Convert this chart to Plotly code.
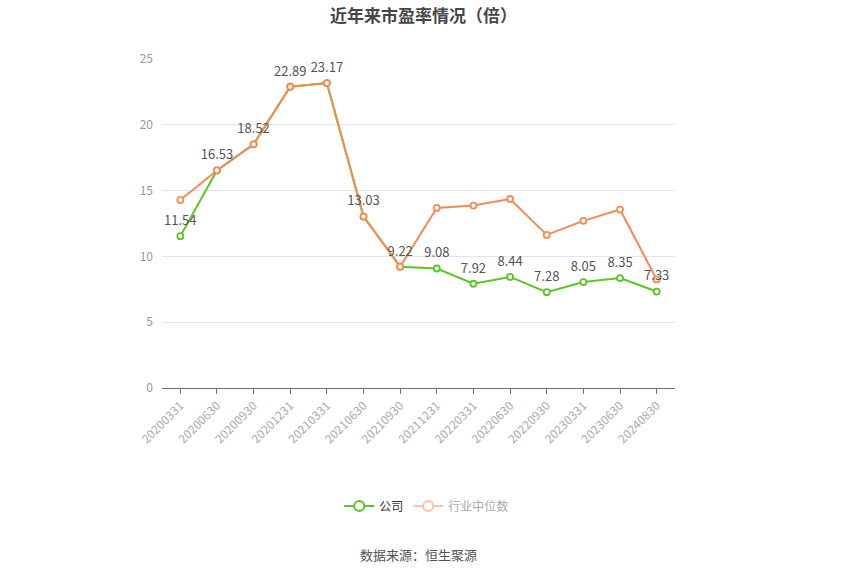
import plotly.graph_objects as go

dates = ["20200331", "20200630", "20200930", "20201231", "20210331", "20210630", "20210930",
         "20211231", "20220331", "20220630", "20220930", "20230331", "20230630", "20240830"]
company = [11.54, 16.53, 18.52, 22.89, 23.17, 13.03, 9.22, 9.08, 7.92, 8.44, 7.28, 8.05, 8.35, 7.33]
industry = [14.29, 16.53, 18.52, 22.89, 23.17, 13.03, 9.22, 13.68, 13.86, 14.36, 11.63, 12.70, 13.56, 8.25]
company_labels = [f"{v:.2f}" for v in company]
yticks = [0, 5, 10, 15, 20, 25]

GREEN = "#5cc424"
ORANGE = "#f28b55"
FONT = "Noto Sans CJK SC, Open Sans, sans-serif"

fig = go.Figure()

fig.add_trace(go.Scatter(
    x=dates, y=company, mode="lines+markers", showlegend=False,
    line=dict(color=GREEN, width=2),
    marker=dict(symbol="circle", size=6, color="white", line=dict(color=GREEN, width=1.8)),
    hoverinfo="skip",
))
fig.add_trace(go.Scatter(
    x=dates, y=industry, mode="lines+markers", showlegend=False,
    line=dict(color=ORANGE, width=2),
    marker=dict(symbol="circle", size=6, color="white", line=dict(color=ORANGE, width=1.8)),
    hoverinfo="skip",
))
fig.add_trace(go.Scatter(
    x=dates, y=company, mode="markers+text", text=company_labels, textposition="top center",
    marker=dict(size=11, opacity=0),
    textfont=dict(size=13, color="#555555", family=FONT), showlegend=False, hoverinfo="skip",
))

# legend entries
fig.add_trace(go.Scatter(
    x=[None], y=[None], mode="lines+markers", name="公司",
    line=dict(color=GREEN, width=2),
    marker=dict(symbol="circle", size=10, color="white", line=dict(color=GREEN, width=2)),
))
fig.add_trace(go.Scatter(
    x=[None], y=[None], mode="lines+markers",
    name="<span style='color:#aaaaaa'>行业中位数</span>",
    line=dict(color="#f9c4a8", width=2),
    marker=dict(symbol="circle", size=10, color="white", line=dict(color="#f9c4a8", width=2)),
))

fig.update_layout(
    width=850, height=575,
    margin=dict(l=162, r=175, t=59, b=187),
    paper_bgcolor="white", plot_bgcolor="white",
    font=dict(family=FONT, color="#666666", size=12),
    xaxis=dict(
        type="category", categoryorder="array", categoryarray=dates,
        range=[-0.5, len(dates) - 0.5],
        tickangle=-45, tickfont=dict(size=12, color="#aaaaaa"),
        showgrid=False, showline=True, linecolor="#6e7079", linewidth=1,
        ticks="outside", ticklen=5, tickcolor="#6e7079", zeroline=False,
    ),
    yaxis=dict(
        range=[0, 25], tickvals=yticks, tickfont=dict(size=12, color="#999999"),
        showgrid=True, gridcolor="#e0e6f1", gridwidth=1, zeroline=False,
        showline=False, ticks="", ticklabelstandoff=8,
    ),
    legend=dict(orientation="h", x=0.516, xanchor="center", y=-0.359, yanchor="middle",
                font=dict(size=12, color="#333333", family=FONT), itemwidth=30,
                bgcolor="rgba(0,0,0,0)"),
    annotations=[
        dict(text="<b>近年来市盈率情况（倍）</b>", xref="paper", yref="paper", x=0.51, y=1 + 45 / 329,
             xanchor="center", yanchor="middle", showarrow=False,
             font=dict(size=17, color="#464646", family=FONT)),
        dict(text="数据来源：恒生聚源", xref="paper", yref="paper", x=0.5, y=-0.505,
             xanchor="center", yanchor="middle", showarrow=False,
             font=dict(size=13, color="#555555", family=FONT)),
    ],
)

fig.write_html("out.html", config={"displayModeBar": False},
               post_script="document.body.style.margin='0';")
